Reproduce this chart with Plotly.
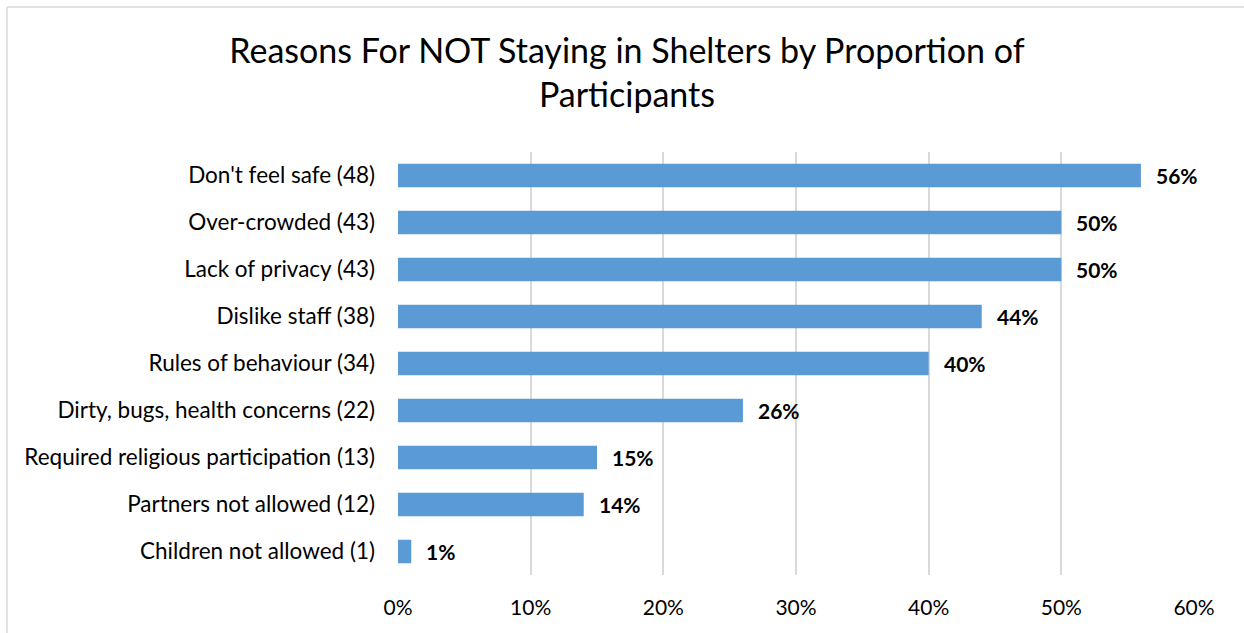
import plotly.graph_objects as go

categories = [
    "Don't feel safe (48)",
    "Over-crowded (43)",
    "Lack of privacy (43)",
    "Dislike staff (38)",
    "Rules of behaviour (34)",
    "Dirty, bugs, health concerns (22)",
    "Required religious participation (13)",
    "Partners not allowed (12)",
    "Children not allowed (1)",
]
percentages = [56, 50, 50, 44, 40, 26, 15, 14, 1]
tick_values = [0, 10, 20, 30, 40, 50, 60]
tick_labels = ["0%", "10%", "20%", "30%", "40%", "50%", "60%"]

FONT = "Lato"
BAR_COLOR = "#5B9BD5"
GRID_COLOR = "#D9D9D9"

fig = go.Figure(
    go.Bar(
        x=percentages,
        y=categories,
        orientation="h",
        marker=dict(color=BAR_COLOR, line=dict(width=0)),
        hoverinfo="skip",
    )
)

# Bold value labels just past the end of each bar
for cat, val in zip(categories, percentages):
    fig.add_annotation(
        x=val, y=cat, text=f"<b>{val}%</b>", showarrow=False,
        xanchor="left", xshift=13,
        font=dict(family=FONT, size=21, color="#000000"),
    )

# Light outer frame of the chart area (top and left edges)
frame = dict(color=GRID_COLOR, width=1.5)
fig.add_shape(type="line", xref="paper", yref="paper",
              x0=-0.4912, x1=1.2, y0=1.3428, y1=1.3428, line=frame, layer="below")
fig.add_shape(type="line", xref="paper", yref="paper",
              x0=-0.4912, x1=-0.4912, y0=-0.3, y1=1.3428, line=frame, layer="below")

fig.update_layout(
    width=1244, height=633,
    margin=dict(l=398, r=50, t=152, b=58),
    paper_bgcolor="white", plot_bgcolor="white",
    bargap=0.5,
    showlegend=False,
    title=dict(
        text="Reasons For NOT Staying in Shelters by Proportion of<br>Participants",
        x=0.504, xanchor="center", y=0.901, yanchor="middle",
        font=dict(family=FONT, size=34, color="#000000"),
    ),
    font=dict(family=FONT, color="#000000"),
)

fig.update_xaxes(
    range=[0, 60], tickvals=tick_values, ticktext=tick_labels,
    showgrid=True, gridcolor=GRID_COLOR, gridwidth=2,
    zeroline=False, showline=False, ticks="",
    tickfont=dict(family=FONT, size=21, color="#000000"),
    ticklabelstandoff=18,
    fixedrange=True,
)
fig.update_yaxes(
    autorange="reversed",
    showgrid=False, zeroline=False, showline=False, ticks="",
    tickfont=dict(family=FONT, size=22.5, color="#000000"),
    ticklabelstandoff=22,
    fixedrange=True,
)

fig.write_html("out.html", config={"displayModeBar": False})
